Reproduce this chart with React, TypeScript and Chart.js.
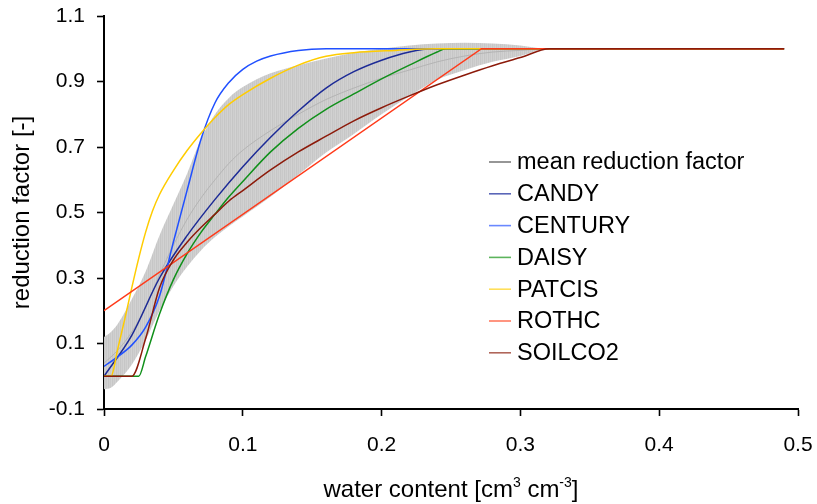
import React, { useEffect, useRef } from 'react';
import { Chart, registerables } from 'chart.js';

Chart.register(...registerables);

const FONT = '"Liberation Sans", Arial, Helvetica, sans-serif';

// ---- axis ticks ----
const X_TICKS = [0, 0.1, 0.2, 0.3, 0.4, 0.5];
const X_TICK_LABELS = ['0', '0.1', '0.2', '0.3', '0.4', '0.5'];
const Y_TICKS = [-0.1, 0.1, 0.3, 0.5, 0.7, 0.9, 1.1];
const Y_TICK_LABELS = ['-0.1', '0.1', '0.3', '0.5', '0.7', '0.9', '1.1'];

// ---- uncertainty band (envelope around the mean) ----
const BAND_X = [0, 0.005, 0.01, 0.02, 0.03, 0.04, 0.05, 0.06, 0.07, 0.08, 0.09, 0.10, 0.12, 0.14, 0.16, 0.18, 0.20, 0.22, 0.24, 0.26, 0.28, 0.30, 0.32, 0.49];
const BAND_UPPER = [0.12, 0.135, 0.16, 0.235, 0.32, 0.43, 0.525, 0.62, 0.725, 0.8, 0.85, 0.883, 0.925, 0.95, 0.97, 0.988, 1.0, 1.01, 1.016, 1.018, 1.016, 1.01, 1.0, 1.0];
const BAND_LOWER = [-0.04, -0.035, -0.015, 0.035, 0.11, 0.2, 0.275, 0.335, 0.385, 0.425, 0.458, 0.488, 0.548, 0.615, 0.683, 0.74, 0.8, 0.855, 0.905, 0.935, 0.96, 0.978, 1.0, 1.0];

// ---- mean reduction factor ----
const MEAN_X = [0, 0.01, 0.02, 0.03, 0.04, 0.05, 0.06, 0.07, 0.08, 0.09, 0.10, 0.12, 0.14, 0.16, 0.18, 0.20, 0.22, 0.24, 0.26, 0.28, 0.30, 0.321, 0.49];
const MEAN_Y = [0.04, 0.08, 0.135, 0.21, 0.31, 0.40, 0.48, 0.545, 0.60, 0.65, 0.69, 0.75, 0.80, 0.845, 0.88, 0.91, 0.935, 0.96, 0.978, 0.99, 0.995, 1.0, 1.0];

// ---- models ----
const CANDY_X = [0, 0.02, 0.04, 0.06, 0.08, 0.10, 0.12, 0.14, 0.16, 0.18, 0.20, 0.22, 0.236, 0.49];
const CANDY_Y = [0, 0.125, 0.30, 0.43, 0.54, 0.64, 0.73, 0.81, 0.88, 0.93, 0.965, 0.99, 1.0, 1.0];

const CENTURY_X = [0, 0.01, 0.02, 0.03, 0.04, 0.05, 0.06, 0.07, 0.08, 0.09, 0.10, 0.11, 0.12, 0.14, 0.16, 0.49];
const CENTURY_Y = [0.03, 0.06, 0.095, 0.15, 0.245, 0.41, 0.57, 0.725, 0.835, 0.897, 0.937, 0.962, 0.978, 0.995, 1.0, 1.0];

const DAISY_X = [0, 0.025, 0.03, 0.04, 0.05, 0.06, 0.07, 0.08, 0.09, 0.10, 0.12, 0.14, 0.16, 0.18, 0.20, 0.22, 0.24, 0.246, 0.49];
const DAISY_Y = [0, 0, 0.06, 0.19, 0.295, 0.375, 0.44, 0.495, 0.548, 0.595, 0.685, 0.757, 0.815, 0.862, 0.908, 0.95, 0.99, 1.0, 1.0];

const PATCIS_X = [0, 0.005, 0.01, 0.015, 0.02, 0.025, 0.03, 0.035, 0.04, 0.05, 0.06, 0.07, 0.08, 0.09, 0.10, 0.12, 0.14, 0.16, 0.18, 0.21, 0.24, 0.49];
const PATCIS_Y = [0, 0, 0.085, 0.175, 0.27, 0.36, 0.44, 0.505, 0.555, 0.628, 0.69, 0.743, 0.79, 0.83, 0.86, 0.91, 0.95, 0.977, 0.988, 0.995, 1.0, 1.0];

const ROTHC_X = [0, 0.272, 0.49];
const ROTHC_Y = [0.2, 1.0, 1.0];

const SOILCO2_X = [0, 0.02, 0.03, 0.04, 0.05, 0.06, 0.07, 0.08, 0.09, 0.10, 0.12, 0.14, 0.16, 0.18, 0.20, 0.22, 0.24, 0.26, 0.28, 0.30, 0.321, 0.49];
const SOILCO2_Y = [0, 0, 0.115, 0.27, 0.355, 0.41, 0.455, 0.495, 0.535, 0.567, 0.63, 0.685, 0.733, 0.78, 0.82, 0.856, 0.89, 0.92, 0.948, 0.973, 1.0, 1.0];

const SERIES_NAMES = ['mean reduction factor', 'CANDY', 'CENTURY', 'DAISY', 'PATCIS', 'ROTHC', 'SOILCO2'];
const LINE_COLORS = ['#b4b4b4', '#1c2a96', '#2050ff', '#10901a', '#ffcc00', '#ff3a1a', '#8c1a0a'];
const LEGEND_COLORS = ['#7c7c7c', '#5a66b8', '#6a88ff', '#5cb45c', '#ffdf5a', '#ff7a60', '#b0665a'];

const X_TITLE_PARTS = [
  { t: 'water content [cm', sup: false },
  { t: '3', sup: true },
  { t: ' cm', sup: false },
  { t: '-3', sup: true },
  { t: ']', sup: false },
];
const Y_TITLE = 'reduction factor [-]';

function pts(xs: number[], ys: number[]) {
  return xs.map((x, i) => ({ x, y: ys[i] }));
}

function stripePattern(): CanvasPattern | string {
  const c = document.createElement('canvas');
  c.width = 4;
  c.height = 1;
  const g = c.getContext('2d');
  if (!g) return '#cbcbcb';
  const cols = ['#c6c6c6', '#cfcfcf', '#c9c9c9', '#d2d2d2'];
  cols.forEach((col, i) => {
    g.fillStyle = col;
    g.fillRect(i, 0, 1, 1);
  });
  const p = g.createPattern(c, 'repeat');
  return p || '#cbcbcb';
}

const overlayPlugin = {
  id: 'overlay',
  afterDraw(chart: any) {
    const ctx = chart.ctx as CanvasRenderingContext2D;
    const area = chart.chartArea;
    ctx.save();
    // legend inside plot
    ctx.font = `23.5px ${FONT}`;
    ctx.textBaseline = 'middle';
    ctx.textAlign = 'left';
    const lx = area.left + 385;
    const ly = area.top + 146;
    SERIES_NAMES.forEach((name, i) => {
      const y = ly + i * 31.8;
      ctx.strokeStyle = LEGEND_COLORS[i];
      ctx.lineWidth = 1.6;
      ctx.beginPath();
      ctx.moveTo(lx, y);
      ctx.lineTo(lx + 22, y);
      ctx.stroke();
      ctx.fillStyle = '#000';
      ctx.fillText(name, lx + 28, y + 1);
    });
    // x-axis title with superscripts
    const big = `24px ${FONT}`;
    const small = `14px ${FONT}`;
    let total = 0;
    X_TITLE_PARTS.forEach((p) => {
      ctx.font = p.sup ? small : big;
      total += ctx.measureText(p.t).width;
    });
    let x = (area.left + area.right) / 2 - total / 2;
    const base = 497;
    ctx.textBaseline = 'alphabetic';
    X_TITLE_PARTS.forEach((p) => {
      ctx.font = p.sup ? small : big;
      ctx.fillText(p.t, x, p.sup ? base - 10 : base);
      x += ctx.measureText(p.t).width;
    });
    ctx.restore();
  },
};

export default function App() {
  const ref = useRef<HTMLCanvasElement | null>(null);

  useEffect(() => {
    if (!ref.current) return;
    const lineDs = (i: number, xs: number[], ys: number[], order: number, straight = false) => ({
      label: SERIES_NAMES[i],
      data: pts(xs, ys),
      borderColor: LINE_COLORS[i],
      backgroundColor: LINE_COLORS[i],
      borderWidth: i === 0 ? 1 : 1.5,
      pointRadius: 0,
      fill: false,
      tension: 0,
      cubicInterpolationMode: straight ? 'default' : 'monotone',
      order,
    });

    const chart = new Chart(ref.current, {
      type: 'line',
      data: {
        datasets: [
          {
            label: 'band lower',
            data: pts(BAND_X, BAND_LOWER),
            borderColor: 'rgba(0,0,0,0)',
            borderWidth: 0,
            pointRadius: 0,
            fill: false,
            cubicInterpolationMode: 'monotone',
            order: 20,
          },
          {
            label: 'band upper',
            data: pts(BAND_X, BAND_UPPER),
            borderColor: 'rgba(0,0,0,0)',
            backgroundColor: stripePattern(),
            borderWidth: 0,
            pointRadius: 0,
            fill: '-1',
            cubicInterpolationMode: 'monotone',
            order: 19,
          },
          lineDs(0, MEAN_X, MEAN_Y, 6),
          lineDs(1, CANDY_X, CANDY_Y, 5),
          lineDs(2, CENTURY_X, CENTURY_Y, 4),
          lineDs(3, DAISY_X, DAISY_Y, 3),
          lineDs(4, PATCIS_X, PATCIS_Y, 2),
          lineDs(5, ROTHC_X, ROTHC_Y, 1, true),
          lineDs(6, SOILCO2_X, SOILCO2_Y, 0),
        ] as any,
      },
      options: {
        responsive: false,
        animation: false,
        devicePixelRatio: 1,
        layout: { padding: { top: 16, right: 19, left: 0, bottom: 0 } },
        plugins: {
          legend: { display: false },
          tooltip: { enabled: false },
        },
        scales: {
          x: {
            type: 'linear',
            min: 0,
            max: 0.5,
            afterBuildTicks: (s: any) => {
              s.ticks = X_TICKS.map((v) => ({ value: v }));
            },
            afterFit: (s: any) => {
              s.height = 95;
              s.paddingLeft = 0;
              s.paddingRight = 0;
            },
            ticks: {
              callback: (_v: any, i: number) => X_TICK_LABELS[i],
              font: { family: FONT, size: 21 },
              color: '#000',
              padding: 17,
              maxRotation: 0,
              autoSkip: false,
            },
            grid: {
              drawOnChartArea: false,
              drawTicks: true,
              tickLength: 7,
              tickColor: '#000',
              tickWidth: 1.6,
            },
            border: { display: true, color: '#000', width: 2 },
          },
          y: {
            type: 'linear',
            min: -0.1,
            max: 1.1,
            afterBuildTicks: (s: any) => {
              s.ticks = Y_TICKS.map((v) => ({ value: v }));
            },
            afterFit: (s: any) => {
              s.width = 104;
              s.paddingTop = 0;
              s.paddingBottom = 0;
            },
            ticks: {
              callback: (_v: any, i: number) => Y_TICK_LABELS[i],
              font: { family: FONT, size: 21 },
              color: '#000',
              padding: 12,
              autoSkip: false,
            },
            grid: {
              drawOnChartArea: false,
              drawTicks: true,
              tickLength: 7,
              tickColor: '#000',
              tickWidth: 1.6,
            },
            border: { display: true, color: '#000', width: 2 },
            title: {
              display: true,
              text: Y_TITLE,
              font: { family: FONT, size: 24 },
              color: '#000',
              padding: { top: 8, bottom: 0 },
            },
          },
        },
      },
      plugins: [overlayPlugin],
    } as any);

    return () => chart.destroy();
  }, []);

  return (
    <div style={{ position: 'fixed', left: 0, top: 0, width: 817, height: 504, background: '#fff' }}>
      <canvas ref={ref} width={817} height={504} style={{ display: 'block' }} />
    </div>
  );
}
